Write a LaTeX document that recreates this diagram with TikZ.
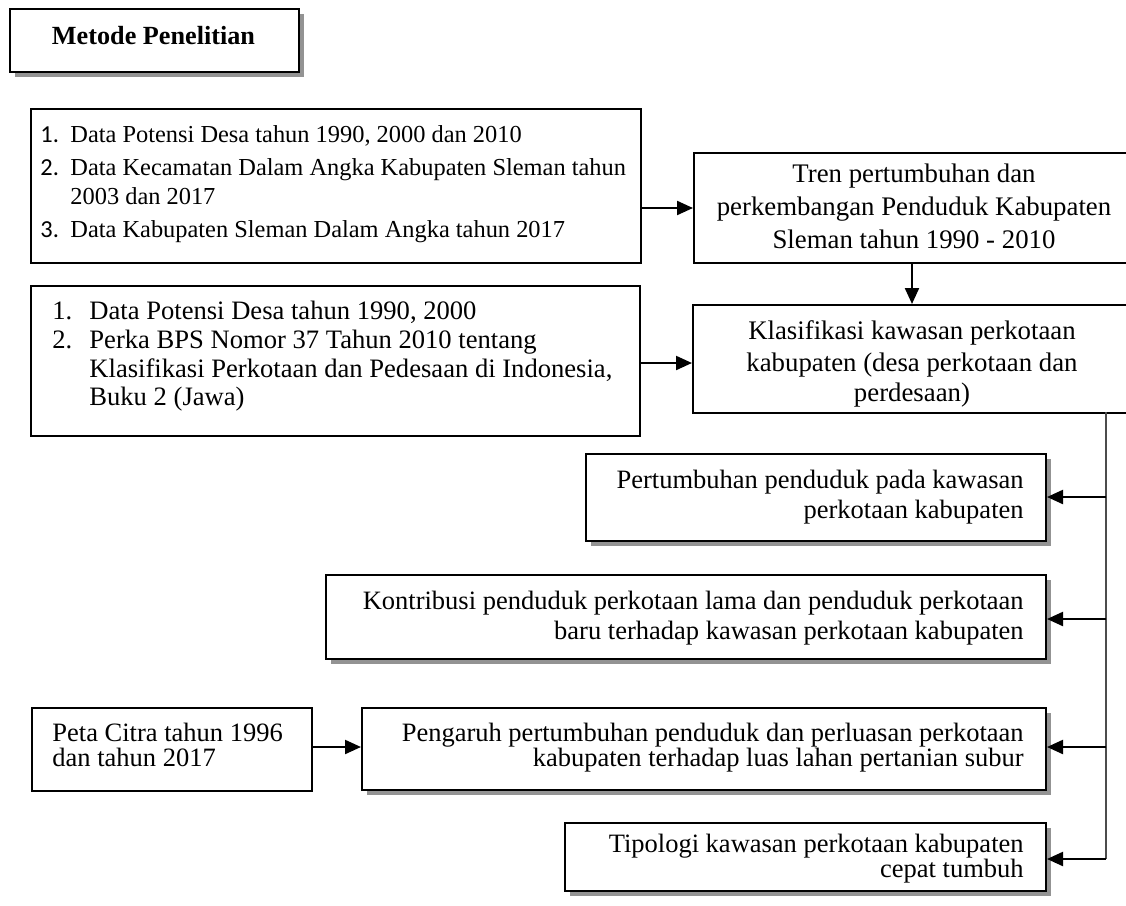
\documentclass[tikz,border=0pt]{standalone}
\usepackage{fontspec}
\setmainfont{Liberation Serif}
\newfontfamily\calib{Carlito}
\usetikzlibrary{arrows.meta,shadows}
\tikzset{
 box/.style={draw=black, line width=1pt, fill=white, inner sep=0pt, anchor=north west},
 sbox/.style={box, drop shadow={shadow xshift=2.3pt, shadow yshift=-2.3pt, fill=gray!85, opacity=1}},
 arr/.style={line width=1.1pt, -{Triangle[length=8pt,width=7pt]}},
 vline/.style={line width=0.7pt, draw=black!70},
 txt/.style={inner sep=0pt, anchor=base west},
 txtr/.style={inner sep=0pt, anchor=base east},
 txtc/.style={inner sep=0pt, anchor=base},
 fA/.style={font=\fontsize{12.2}{14}\selectfont},
 fB/.style={font=\fontsize{13.4}{15}\selectfont},
 fD/.style={font=\fontsize{13.3}{15}\selectfont},
 fE/.style={font=\fontsize{13.25}{15}\selectfont},
}
\begin{document}
\begin{tikzpicture}[x=0.5pt,y=-0.5pt]
\useasboundingbox (0,0) rectangle (1126,906);
\clip (0,0) rectangle (1126,906);
% title
\node[sbox, minimum width=144.5pt, minimum height=31.5pt] (T) at (9,8) {};
\node[inner sep=0pt, font=\fontsize{13.1}{15}\selectfont\bfseries] (tT) at (153.5,36) {Metode Penelitian};
% box A
\node[box, minimum width=305pt, minimum height=77pt] (A) at (30,108) {};
\node[txt, fA] (a1n) at (40,142) {\calib 1.};
\node[txt, fA] (a1) at (70,142) {Data Potensi Desa tahun 1990, 2000 dan 2010};
\node[txt, fA] (a2n) at (40,175) {\calib 2.};
\node[txt, fA] (a2) at (70,175) {Data Kecamatan Dalam Angka Kabupaten Sleman tahun};
\node[txt, fA] (a2b) at (70,204) {2003 dan 2017};
\node[txt, fA] (a3n) at (40,237) {\calib 3.};
\node[txt, fA] (a3) at (70,237) {Data Kabupaten Sleman Dalam Angka tahun 2017};
% box B
\node[box, minimum width=223.5pt, minimum height=55pt] (B) at (693,152) {};
\node[txtc, fB] (b1) at (914,182) {Tren pertumbuhan dan};
\node[txtc, fB] (b2) at (914,215) {perkembangan Penduduk Kabupaten};
\node[txtc, fB] (b3) at (914,248) {Sleman tahun 1990 - 2010};
% box C
\node[box, minimum width=224pt, minimum height=54pt] (C) at (692,304) {};
\node[txtc, fB] (c1) at (912,339) {Klasifikasi kawasan perkotaan};
\node[txtc, fB] (c2) at (912,371) {kabupaten (desa perkotaan dan};
\node[txtc, fB] (c3) at (912,401) {perdesaan)};
% box D
\node[box, minimum width=304.5pt, minimum height=75pt] (D) at (30,285) {};
\node[txt, fD] (d1n) at (52,319) {1.};
\node[txt, fD] (d1) at (89,319) {Data Potensi Desa tahun 1990, 2000};
\node[txt, fD] (d2n) at (52,348) {2.};
\node[txt, fD] (d2) at (89,348) {Perka BPS Nomor 37 Tahun 2010 tentang};
\node[txt, fD] (d2b) at (89,377) {Klasifikasi Perkotaan dan Pedesaan di Indonesia,};
\node[txt, fD] (d2c) at (89,405) {Buku 2 (Jawa)};
% box E
\node[sbox, minimum width=230pt, minimum height=43.5pt] (E) at (585,453) {};
\node[txtr, fE] (e1) at (1024,488) {Pertumbuhan penduduk pada kawasan};
\node[txtr, fE] (e2) at (1024,518) {perkotaan kabupaten};
% box F
\node[sbox, minimum width=360pt, minimum height=42pt] (F) at (325,574) {};
\node[txtr, fE] (f1) at (1024,609) {Kontribusi penduduk perkotaan lama dan penduduk perkotaan};
\node[txtr, fE] (f2) at (1024,639) {baru terhadap kawasan perkotaan kabupaten};
% box G
\node[box, minimum width=140pt, minimum height=41.5pt] (G) at (31,707) {};
\node[txt, fE] (g1) at (52,741) {Peta Citra tahun 1996};
\node[txt, fE] (g2) at (52,766) {dan tahun 2017};
% box H
\node[sbox, minimum width=342pt, minimum height=41pt] (H) at (361,707) {};
\node[txtr, fE] (h1) at (1024,741) {Pengaruh pertumbuhan penduduk dan perluasan perkotaan};
\node[txtr, fE] (h2) at (1024,766) {kabupaten terhadap luas lahan pertanian subur};
% box I
\node[sbox, minimum width=240.5pt, minimum height=34pt] (I) at (564,822) {};
\node[txtr, fE] (i1) at (1024,852) {Tipologi kawasan perkotaan kabupaten};
\node[txtr, fE] (i2) at (1024,877) {cepat tumbuh};
% connectors
\coordinate (yAB) at (0,208);
\coordinate (yDC) at (0,363);
\coordinate (yGH) at (0,747);
\coordinate (xBC) at (912,0);
\draw[arr] (A.east |- yAB) -- (B.west |- yAB);
\draw[arr] (D.east |- yDC) -- (C.west |- yDC);
\draw[arr] (B.south -| xBC) -- (C.north -| xBC);
\draw[arr] (G.east |- yGH) -- (H.west |- yGH);
\coordinate (vtop) at (1106,412);
\coordinate (vE) at (1106,497);
\coordinate (vF) at (1106,619);
\coordinate (vH) at (1106,747);
\coordinate (vI) at (1106,859);
\draw[vline] (vtop) -- (vI);
\draw[arr] (vE) -- (vE -| E.east);
\draw[arr] (vF) -- (vF -| F.east);
\draw[arr] (vH) -- (vH -| H.east);
\draw[arr] (vI) -- (vI -| I.east);
\end{tikzpicture}
\end{document}
